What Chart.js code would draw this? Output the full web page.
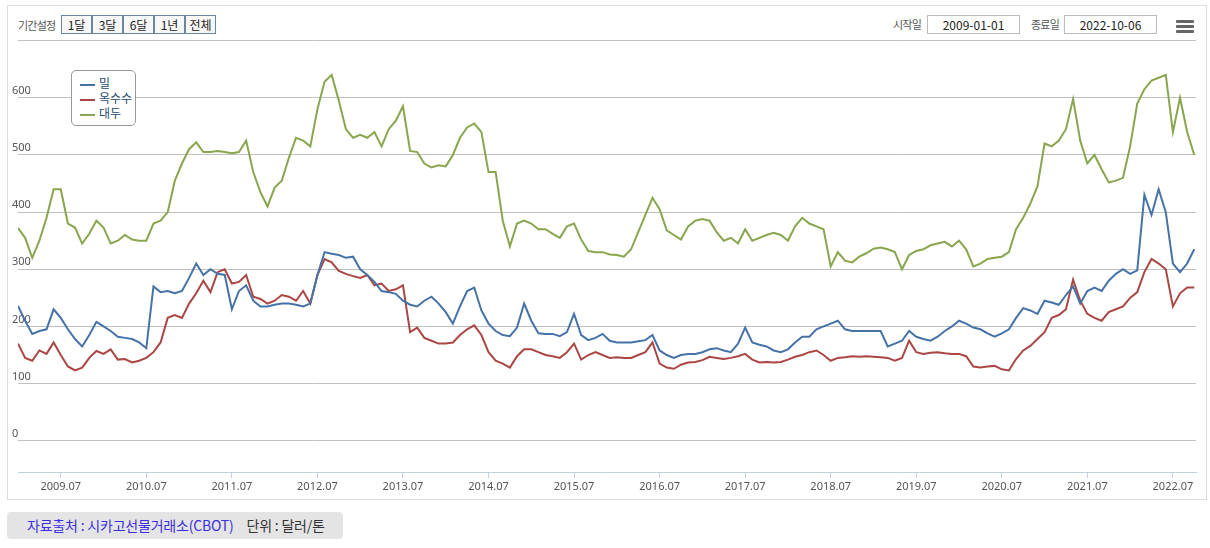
<!DOCTYPE html>
<html><head><meta charset="utf-8">
<script src="https://cdn.jsdelivr.net/npm/chart.js@4"></script>
<style>
body{margin:0;width:1210px;height:548px;background:#fff;font-family:"Noto Sans CJK KR","Noto Sans",sans-serif;position:relative;overflow:hidden}
#frame{position:absolute;left:7px;top:5px;width:1198px;height:493px;border:1px solid #ddd}
.t{position:absolute;font-size:11px;color:#555;letter-spacing:-0.8px}
.btn{position:absolute;top:15px;height:17px;width:29px;border:1px solid #6b86a3;background:#f8f8f8;font-size:12px;color:#222;text-align:center;line-height:17px}
.inp{position:absolute;top:15px;height:17px;width:91px;border:1px solid #bbb;font-size:12px;color:#222;text-align:center;line-height:17px}
#menu{position:absolute;left:1176px;top:20px;width:18px}
#menu div{height:3px;background:#666;margin-bottom:2px;border-radius:1px}
#cv{position:absolute;left:8px;top:36px;width:1197px;height:462px}
#legend{position:absolute;left:71px;top:70px;width:63px;height:54px;border:1px solid #999;border-radius:5px;background:#fff;font-size:12px;color:#274b6d}
#legend .r{position:absolute;left:8px;height:14px;line-height:14px}
#legend .r span{display:inline-block;width:15px;height:2px;vertical-align:middle;margin-right:4px}
#src{position:absolute;left:7px;top:512px;width:336px;height:27px;background:#e4e4e4;border-radius:4px;font-size:14px;line-height:27px;letter-spacing:-0.2px}
</style></head>
<body>
<div id="frame"></div>
<div class="t" style="left:18px;top:17px">기간설정</div>
<div class="btn" style="left:61px">1달</div>
<div class="btn" style="left:92px">3달</div>
<div class="btn" style="left:123px">6달</div>
<div class="btn" style="left:154px">1년</div>
<div class="btn" style="left:185px">전체</div>
<div class="t" style="left:893px;top:16px">시작일</div>
<div class="inp" style="left:927px">2009-01-01</div>
<div class="t" style="left:1031px;top:16px">종료일</div>
<div class="inp" style="left:1064px">2022-10-06</div>
<div id="menu"><div></div><div></div><div></div></div>
<canvas id="cv" width="1197" height="462"></canvas>
<div id="legend">
<div class="r" style="top:5px"><span style="background:#4572A7"></span>밀</div>
<div class="r" style="top:20px"><span style="background:#AA4643"></span>옥수수</div>
<div class="r" style="top:35px"><span style="background:#89A54E"></span>대두</div>
</div>
<div id="src"><span style="color:#3a2ee0;margin-left:20px">자료출처 : 시카고선물거래소(CBOT)</span><span style="color:#333;margin-left:13px">단위 : 달러/톤</span></div>
<script>
// monthly values, Jan 2009 .. Oct 2022
const startYear = 2009;
const seriesNames = ['밀','옥수수','대두'];
const wheat = [236,210,187,192,195,230,215,195,178,165,185,208,
200,192,182,180,178,172,162,270,260,262,258,262,
285,310,290,300,292,290,230,262,272,245,235,235,
238,240,240,238,235,240,290,330,327,325,320,322,
300,290,278,262,260,257,245,238,235,245,252,240,
225,205,235,262,268,228,205,192,185,183,198,240,
210,188,187,187,183,190,222,185,176,180,187,175,
172,172,172,174,176,185,158,150,145,150,152,152,
155,160,162,158,155,170,198,172,168,165,158,155,
160,172,182,182,195,200,205,210,195,192,192,192,
192,192,165,170,175,192,182,178,175,182,192,200,
210,205,198,195,188,182,188,195,215,232,228,222,
245,242,238,255,270,240,262,268,262,280,292,300,
292,298,430,395,440,400,310,295,310,335];
const corn = [170,145,140,158,152,172,150,130,123,128,145,157,
152,160,142,143,137,140,145,155,172,215,220,215,
240,258,280,260,295,300,275,278,290,252,248,240,
245,255,252,245,262,240,290,318,312,297,292,288,
285,290,272,275,262,265,272,190,198,180,175,170,
170,172,185,195,202,185,155,140,135,128,148,160,
160,155,150,148,145,155,170,142,150,155,150,145,
146,145,145,150,155,172,135,128,126,133,137,138,
141,147,145,143,145,148,152,142,137,138,137,138,
142,147,150,155,158,150,140,145,146,148,147,148,
147,146,145,140,145,175,155,152,154,155,153,152,
152,148,130,128,130,131,125,123,143,158,166,178,
190,215,220,230,282,245,222,215,210,225,230,235,
250,260,295,318,310,300,235,258,268,268];
const soy = [372,355,320,350,390,440,440,380,373,345,362,385,
373,345,350,360,352,350,350,380,385,400,455,485,
510,522,505,505,507,505,503,505,525,470,435,410,
443,455,495,530,525,515,580,628,640,595,545,530,
535,530,540,515,545,560,585,507,505,485,478,482,
480,500,530,548,555,540,470,470,385,340,380,385,
380,370,370,362,355,375,380,352,332,330,330,326,
325,322,335,365,395,425,405,368,360,352,375,385,
388,385,365,350,355,345,370,350,355,360,364,360,
350,375,390,380,375,370,305,330,315,312,322,328,
336,338,335,330,300,325,332,335,342,345,348,340,
350,335,305,310,318,320,322,330,370,390,415,445,
520,515,525,545,598,525,485,500,475,452,455,460,
515,590,615,630,635,640,540,600,540,500];
const yTicks = [0,100,200,300,400,500,600,700];
const xTickYears = [2009,2010,2011,2012,2013,2014,2015,2016,2017,2018,2019,2020,2021,2022];

const pts = arr => arr.map((v,i)=>({x:startYear+i/12, y:v}));
const mk = (label,data,color)=>({label,data:pts(data),borderColor:color,backgroundColor:color,borderWidth:2,pointRadius:0,tension:0});
new Chart(document.getElementById('cv'),{
 type:'line',
 data:{datasets:[mk(seriesNames[0],wheat,'#4572A7'),mk(seriesNames[1],corn,'#AA4643'),mk(seriesNames[2],soy,'#89A54E')]},
 options:{
  responsive:false,animation:false,
  layout:{padding:{left:10,right:9,top:3,bottom:3}},
  plugins:{legend:{display:false},tooltip:{enabled:false}},
  scales:{
   x:{type:'linear',min:2009,max:2009+165/12+0.02,
     afterBuildTicks:ax=>{ax.ticks=xTickYears.map(y=>({value:y+0.5}));},
     ticks:{callback:v=>Math.floor(v)+'.07',font:{size:11,family:'"Noto Sans","Noto Sans CJK KR"'},color:'#555',maxRotation:0,autoSkip:false,padding:2},
     grid:{drawOnChartArea:false,drawTicks:true,tickLength:5,color:'#c0d0e0'},
     border:{color:'#c0d0e0'}},
   y:{min:-56,max:700,
     afterBuildTicks:ax=>{ax.ticks=yTicks.map(v=>({value:v}));},
     ticks:{mirror:true,padding:-2,labelOffset:-7,callback:v=>v===700?'':String(v),font:{size:11,family:'"Noto Sans","Noto Sans CJK KR"'},color:'#555'},
     grid:{color:'#c0c0c0',drawTicks:false},
     border:{display:false}}
  }
 }
});
</script>
</body></html>
